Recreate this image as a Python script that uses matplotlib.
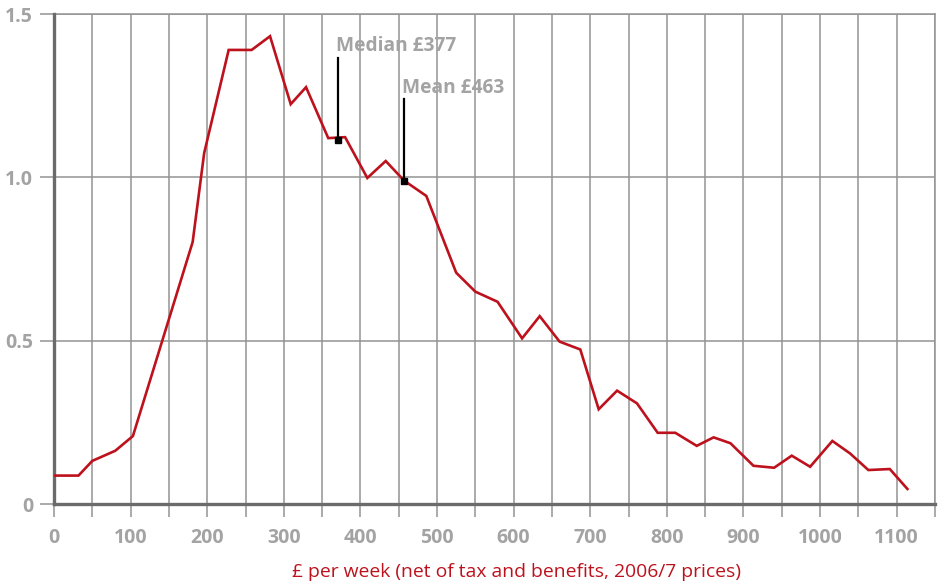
import numpy as np
import matplotlib.pyplot as plt

# income distribution
income = [0, 32, 50, 80, 103, 181, 196, 228, 258, 282, 309, 329, 358, 380,
          409, 433, 457, 486, 525, 550, 579, 611, 634, 660, 687, 711, 735,
          761, 788, 811, 839, 861, 883, 913, 940, 963, 987, 1016, 1039,
          1063, 1091, 1114]
share = [0.087, 0.087, 0.132, 0.163, 0.208, 0.802, 1.074, 1.39, 1.39, 1.432,
         1.224, 1.276, 1.12, 1.123, 0.998, 1.05, 0.99, 0.943, 0.708, 0.65,
         0.619, 0.507, 0.575, 0.497, 0.473, 0.29, 0.347, 0.308, 0.218,
         0.218, 0.178, 0.204, 0.186, 0.117, 0.111, 0.148, 0.114, 0.193,
         0.155, 0.104, 0.107, 0.046]

marker_labels = ['Median £377', 'Mean £463']
marker_x = [371, 457]
marker_y = [1.114, 0.989]
marker_top = [1.365, 1.24]
label_y = [1.402, 1.273]

xticks = list(range(0, 1101, 100))
yticks = [0, 0.5, 1.0, 1.5]
ytick_labels = ['0', '0.5', '1.0', '1.5']

RED = '#bd121d'
GRID = '#939393'
AXIS = '#6b6b6b'
LABEL = '#a3a3a3'
FONT = 'Open Sans'

fig = plt.figure(figsize=(9.41, 5.82), dpi=100)
ax = fig.add_axes([54 / 941, (582 - 504) / 582, (935 - 54) / 941, (504 - 14) / 582])

ax.plot(income, share, color=RED, lw=1.9, zorder=4, solid_joinstyle='miter')

for lab, mx, my, mt, ly in zip(marker_labels, marker_x, marker_y, marker_top, label_y):
    ax.plot([mx, mx], [my, mt], color='black', lw=1.6, zorder=5)
    ax.plot(mx, my, marker='s', ms=5, color='black', zorder=6)
    ax.text(mx - 3, ly, lab, fontsize=13.8, fontweight='bold', color=LABEL,
            family=FONT, ha='left', va='center', zorder=6)

ax.set_xlim(0, 1150)
ax.set_ylim(0, 1.5)
ax.set_xticks(xticks)
ax.set_xticks(list(range(50, 1151, 100)), minor=True)
ax.set_yticks(yticks)
ax.set_yticklabels(ytick_labels)
ax.grid(True, which='both', color=GRID, lw=1.1, zorder=1)
ax.set_axisbelow(True)

ax.tick_params(axis='x', which='both', length=9, width=1.1, color=GRID,
               pad=8, labelsize=14, labelcolor=LABEL)
ax.tick_params(axis='y', length=10, width=1.1, color=GRID, pad=5,
               labelsize=14, labelcolor=LABEL)
for t in ax.get_xticklabels() + ax.get_yticklabels():
    t.set_fontweight('bold')
    t.set_family(FONT)

for s in ['top', 'right']:
    ax.spines[s].set_color(GRID)
    ax.spines[s].set_linewidth(1.1)
ax.spines['left'].set_color(AXIS)
ax.spines['left'].set_linewidth(2.4)
ax.spines['bottom'].set_color(AXIS)
ax.spines['bottom'].set_linewidth(2.4)
ax.spines['left'].set_zorder(3)
ax.spines['bottom'].set_zorder(3)

fig.text(516 / 941, 1 - 572 / 582,
         '£ per week (net of tax and benefits, 2006/7 prices)',
         color=RED, fontsize=13.9, family=FONT, ha='center', va='center')

fig.savefig('out.png', dpi=100)
